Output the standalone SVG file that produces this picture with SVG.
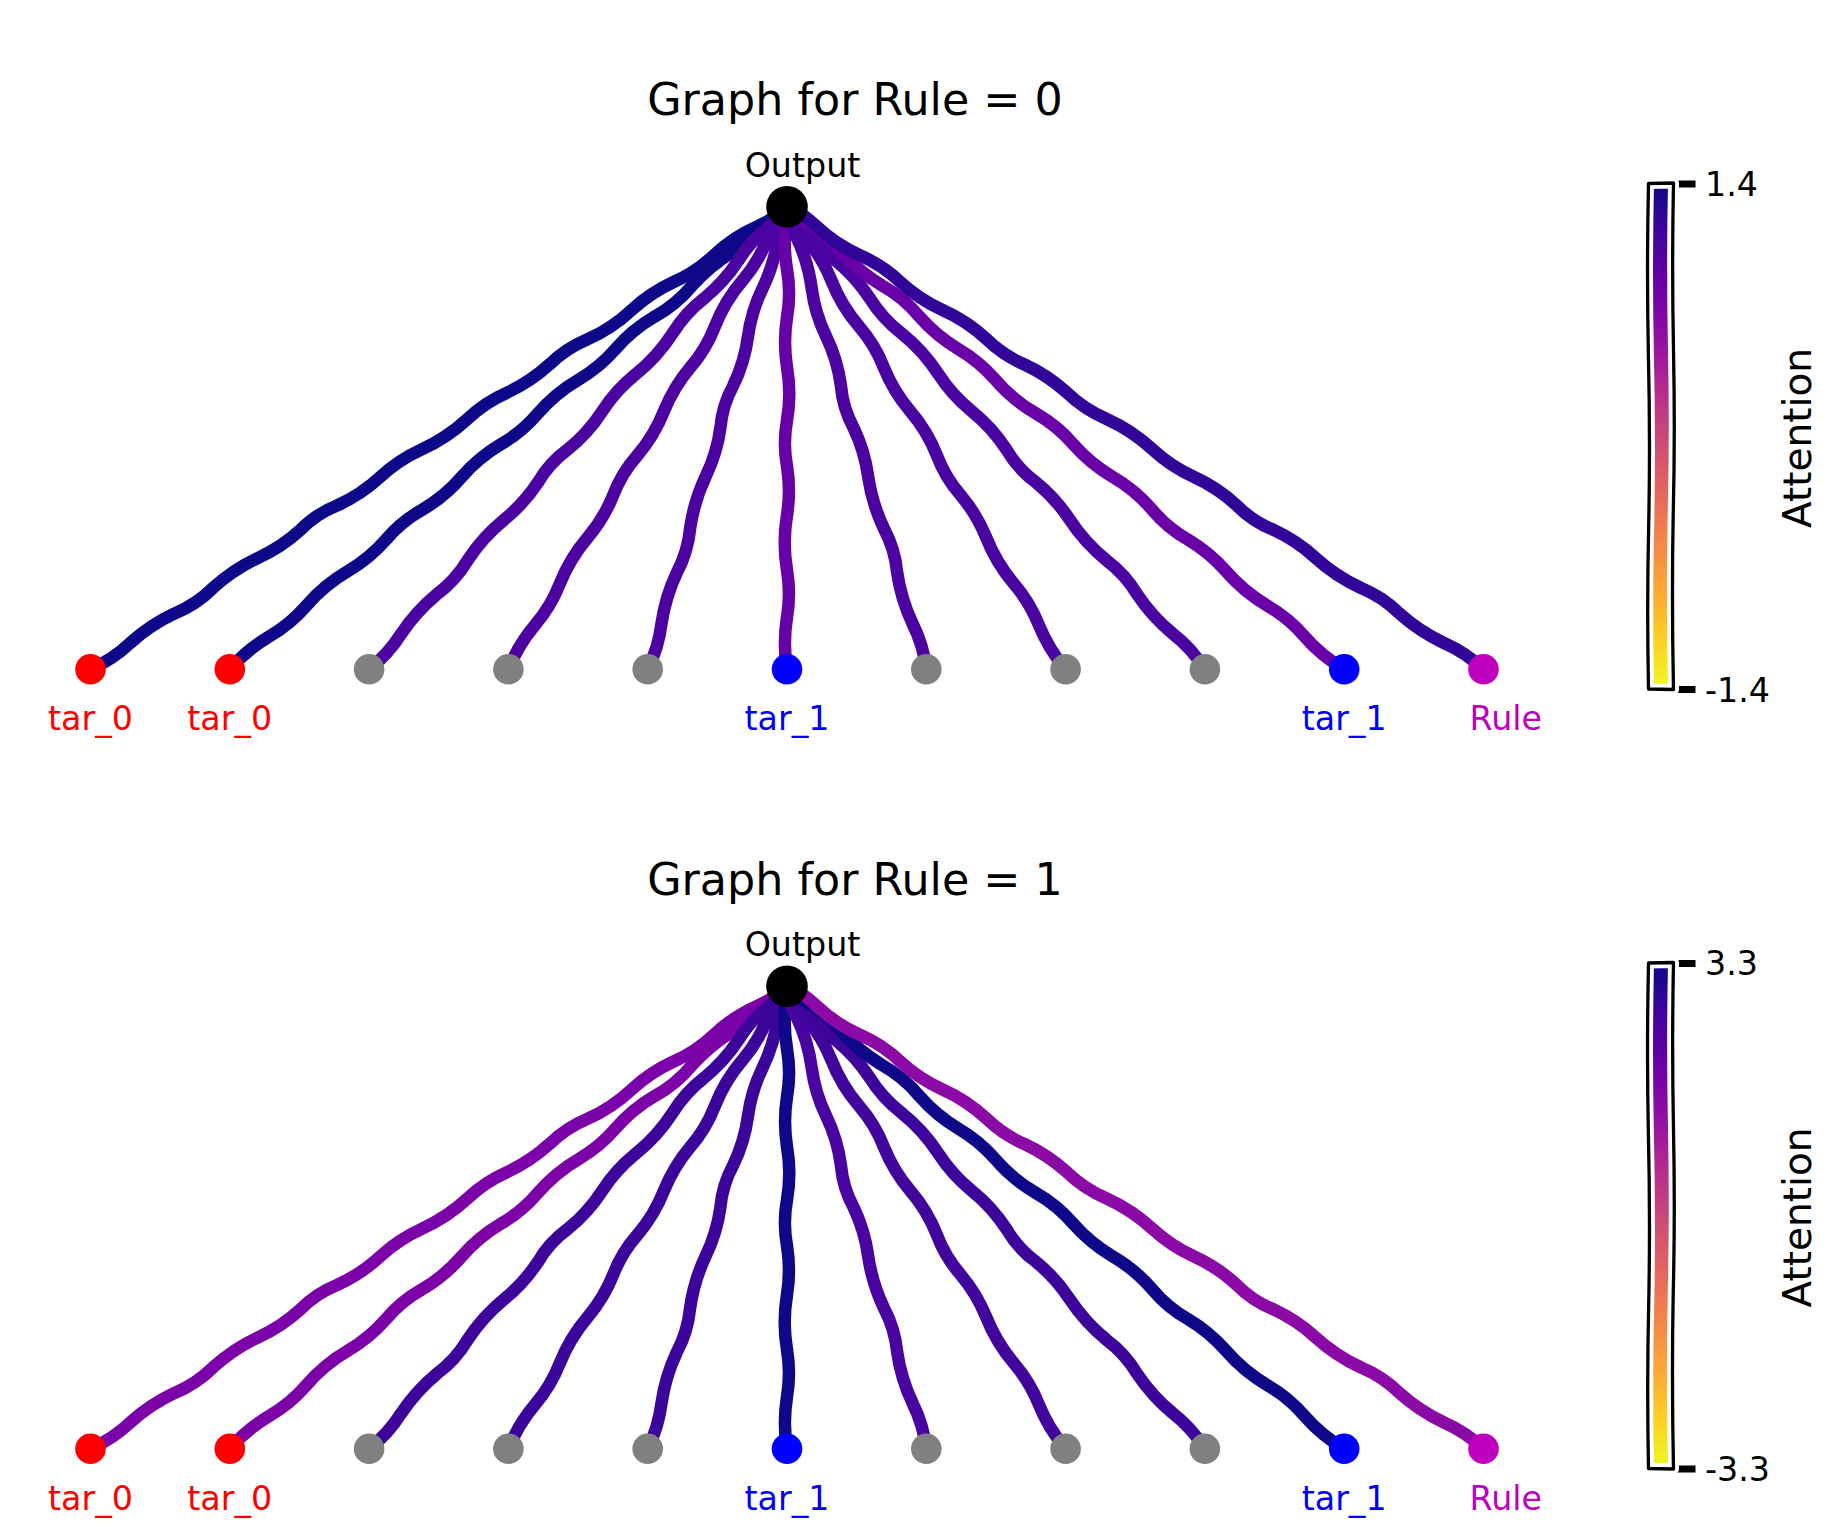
<svg xmlns="http://www.w3.org/2000/svg" width="1838" height="1538" viewBox="0 0 1838 1538">
<style>
text { font-family: "DejaVu Sans", "Liberation Sans", sans-serif; }
.title { font-size: 44.4px; text-anchor: middle; fill: #000; }
.lbl { font-size: 33.3px; text-anchor: middle; }
.tick { font-size: 33.3px; fill: #000; }
.cbl { font-size: 39px; text-anchor: middle; fill: #000; }
.edges use { fill: none; stroke-width: 12.5; stroke-linecap: round; stroke-linejoin: round; }
.out { fill: #000; }
.red { fill: #ff0000; }
.gray { fill: #808080; }
.blue { fill: #0000ff; }
.mag { fill: #bf00bf; }
.cbo { fill: none; stroke-linejoin: round; }
.tk { stroke: #000; stroke-width: 7; }
</style>
<defs>
<path id="wA" pathLength="950" d="M0,0 Q24,4.2 48,0 Q74.5,-3.9 101,0 Q124,4.6 147,0 Q174.5,-4.2 202,0 Q227,3.9 252,0 Q274,-4.6 296,0 Q322,4.2 348,0 Q372.5,-3.9 397,0 Q425,4.6 453,0 Q476.5,-4.2 500,0 Q525.5,3.9 551,0 Q573.5,-4.2 596,0 Q623,4.6 650,0 Q675,-3.9 700,0 Q724,4.2 748,0 Q774.5,-4.6 801,0 Q824.5,3.9 848,0 Q874,-4.2 900,0 Q925,4.2 950,0"/>
<path id="wB" pathLength="1000" d="M0,0 Q26,-4.2 52,0 Q75.5,3.9 99,0 Q126.5,-4.6 154,0 Q178.5,3.9 203,0 Q226,-4.2 249,0 Q275.5,4.6 302,0 Q327,-3.9 352,0 Q376,4.2 400,0 Q427,-4.6 454,0 Q477.5,3.9 501,0 Q526.5,-4.2 552,0 Q576.5,4.6 601,0 Q627.5,-3.9 654,0 Q677,4.2 700,0 Q726,-4.6 752,0 Q777,3.9 802,0 Q826,-4.2 850,0 Q877.5,4.2 905,0 Q929.5,-3.9 954,0 Q977,4.2 1000,0"/>
<linearGradient id="plasma" x1="0" y1="0" x2="0" y2="1">
<stop offset="0" stop-color="#0d0887"/>
<stop offset="0.1" stop-color="#41049d"/>
<stop offset="0.2" stop-color="#6a00a8"/>
<stop offset="0.3" stop-color="#8f0da4"/>
<stop offset="0.4" stop-color="#b12a90"/>
<stop offset="0.5" stop-color="#cc4778"/>
<stop offset="0.6" stop-color="#e16462"/>
<stop offset="0.7" stop-color="#f2844b"/>
<stop offset="0.8" stop-color="#fca636"/>
<stop offset="0.9" stop-color="#fcce25"/>
<stop offset="1" stop-color="#f0f921"/>
</linearGradient>
<path id="cbOutline" d="M1648.5,183.5 L1673.5,183 Q1671.8,265 1673.5,350 Q1675.2,435 1673.2,515 Q1671.6,600 1673.5,689.5 L1648.5,689 Q1646.8,605 1648.7,525 Q1650.4,440 1648.4,355 Q1646.6,270 1648.5,183.5 Z"/>
</defs>
<rect width="1838" height="1538" fill="#ffffff"/>

<!-- ===== Panel: Rule = 0 ===== -->
<g id="panel-rule0">
<text class="title" x="855" y="115">Graph for Rule = 0</text>
<g id="edges-rule0" class="edges">
<use href="#wA" transform="translate(90.5,669.3) rotate(-33.59)" stroke-dasharray="836 3000" stroke="#0d0887"/>
<use href="#wB" transform="translate(229.8,669.3) rotate(-39.70)" stroke-dasharray="724 3000" stroke="#0e0888"/>
<use href="#wA" transform="translate(369.1,669.3) rotate(-47.91)" stroke-dasharray="623 3000" stroke="#4a03a0"/>
<use href="#wB" transform="translate(508.4,669.3) rotate(-58.94)" stroke-dasharray="540 3000" stroke="#4c02a1"/>
<use href="#wA" transform="translate(647.7,669.3) rotate(-73.24)" stroke-dasharray="483 3000" stroke="#4c02a1"/>
<use href="#wB" transform="translate(787,669.3) rotate(-90)" stroke-dasharray="462.6 3000" stroke="#6600a7"/>
<use href="#wA" transform="translate(926.3,669.3) rotate(-106.76)" stroke-dasharray="483 3000" stroke="#4c02a1"/>
<use href="#wB" transform="translate(1065.6,669.3) rotate(-121.06)" stroke-dasharray="540 3000" stroke="#4903a0"/>
<use href="#wA" transform="translate(1204.9,669.3) rotate(-132.09)" stroke-dasharray="623 3000" stroke="#4a03a0"/>
<use href="#wB" transform="translate(1344.2,669.3) rotate(-140.30)" stroke-dasharray="724 3000" stroke="#6a00a8"/>
<use href="#wA" transform="translate(1483.5,669.3) rotate(-146.41)" stroke-dasharray="836 3000" stroke="#300597"/>
</g>
<g id="r0-output"><circle class="out" cx="787" cy="206.7" r="20.8"/><text class="lbl" x="802.5" y="176.7" fill="#000">Output</text></g>
<g id="r0-n0"><circle class="red" cx="90.5" cy="669.3" r="15.3"/><text class="lbl" x="90.5" y="730" fill="#ff0000">tar_0</text></g>
<g id="r0-n1"><circle class="red" cx="229.8" cy="669.3" r="15.3"/><text class="lbl" x="229.8" y="730" fill="#ff0000">tar_0</text></g>
<g id="r0-n2"><circle class="gray" cx="369.1" cy="669.3" r="15.3"/></g>
<g id="r0-n3"><circle class="gray" cx="508.4" cy="669.3" r="15.3"/></g>
<g id="r0-n4"><circle class="gray" cx="647.7" cy="669.3" r="15.3"/></g>
<g id="r0-n5"><circle class="blue" cx="787" cy="669.3" r="15.3"/><text class="lbl" x="787" y="730" fill="#0000ff">tar_1</text></g>
<g id="r0-n6"><circle class="gray" cx="926.3" cy="669.3" r="15.3"/></g>
<g id="r0-n7"><circle class="gray" cx="1065.6" cy="669.3" r="15.3"/></g>
<g id="r0-n8"><circle class="gray" cx="1204.9" cy="669.3" r="15.3"/></g>
<g id="r0-n9"><circle class="blue" cx="1344.2" cy="669.3" r="15.3"/><text class="lbl" x="1344.2" y="730" fill="#0000ff">tar_1</text></g>
<g id="r0-n10"><circle class="mag" cx="1483.5" cy="669.3" r="15.3"/><text class="lbl" x="1505.8" y="730" fill="#bf00bf">Rule</text></g>
<g id="r0-colorbar">
<rect x="1648.5" y="183.5" width="25" height="505.5" fill="url(#plasma)"/>
<line class="tk" x1="1674" y1="184" x2="1695.5" y2="184"/>
<line class="tk" x1="1674" y1="689.5" x2="1695.5" y2="689.5"/>
<use href="#cbOutline" class="cbo" stroke="#ffffff" stroke-width="11"/>
<use href="#cbOutline" class="cbo" stroke="#000000" stroke-width="3.3"/>
<text class="tick" x="1705" y="195.8">1.4</text>
<text class="tick" x="1705" y="701.8">-1.4</text>
<text class="cbl" transform="translate(1810.5,438) rotate(-90)">Attention</text>
</g>
</g>

<!-- ===== Panel: Rule = 1 ===== -->
<g id="panel-rule1" transform="translate(0,779.5)">
<text class="title" x="855" y="115">Graph for Rule = 1</text>
<g id="edges-rule1" class="edges">
<use href="#wA" transform="translate(90.5,669.3) rotate(-33.59)" stroke-dasharray="836 3000" stroke="#7a02a8"/>
<use href="#wB" transform="translate(229.8,669.3) rotate(-39.70)" stroke-dasharray="724 3000" stroke="#7c02a8"/>
<use href="#wA" transform="translate(369.1,669.3) rotate(-47.91)" stroke-dasharray="623 3000" stroke="#3d049b"/>
<use href="#wB" transform="translate(508.4,669.3) rotate(-58.94)" stroke-dasharray="540 3000" stroke="#3b049a"/>
<use href="#wA" transform="translate(647.7,669.3) rotate(-73.24)" stroke-dasharray="483 3000" stroke="#3b049a"/>
<use href="#wB" transform="translate(787,669.3) rotate(-90)" stroke-dasharray="462.6 3000" stroke="#0e0888"/>
<use href="#wA" transform="translate(926.3,669.3) rotate(-106.76)" stroke-dasharray="483 3000" stroke="#4903a0"/>
<use href="#wB" transform="translate(1065.6,669.3) rotate(-121.06)" stroke-dasharray="540 3000" stroke="#41049d"/>
<use href="#wA" transform="translate(1204.9,669.3) rotate(-132.09)" stroke-dasharray="623 3000" stroke="#3d049b"/>
<use href="#wB" transform="translate(1344.2,669.3) rotate(-140.30)" stroke-dasharray="724 3000" stroke="#0e0888"/>
<use href="#wA" transform="translate(1483.5,669.3) rotate(-146.41)" stroke-dasharray="836 3000" stroke="#8b0aa5"/>
</g>
<g id="r1-output"><circle class="out" cx="787" cy="206.7" r="20.8"/><text class="lbl" x="802.5" y="176.7" fill="#000">Output</text></g>
<g id="r1-n0"><circle class="red" cx="90.5" cy="669.3" r="15.3"/><text class="lbl" x="90.5" y="730" fill="#ff0000">tar_0</text></g>
<g id="r1-n1"><circle class="red" cx="229.8" cy="669.3" r="15.3"/><text class="lbl" x="229.8" y="730" fill="#ff0000">tar_0</text></g>
<g id="r1-n2"><circle class="gray" cx="369.1" cy="669.3" r="15.3"/></g>
<g id="r1-n3"><circle class="gray" cx="508.4" cy="669.3" r="15.3"/></g>
<g id="r1-n4"><circle class="gray" cx="647.7" cy="669.3" r="15.3"/></g>
<g id="r1-n5"><circle class="blue" cx="787" cy="669.3" r="15.3"/><text class="lbl" x="787" y="730" fill="#0000ff">tar_1</text></g>
<g id="r1-n6"><circle class="gray" cx="926.3" cy="669.3" r="15.3"/></g>
<g id="r1-n7"><circle class="gray" cx="1065.6" cy="669.3" r="15.3"/></g>
<g id="r1-n8"><circle class="gray" cx="1204.9" cy="669.3" r="15.3"/></g>
<g id="r1-n9"><circle class="blue" cx="1344.2" cy="669.3" r="15.3"/><text class="lbl" x="1344.2" y="730" fill="#0000ff">tar_1</text></g>
<g id="r1-n10"><circle class="mag" cx="1483.5" cy="669.3" r="15.3"/><text class="lbl" x="1505.8" y="730" fill="#bf00bf">Rule</text></g>
<g id="r1-colorbar">
<rect x="1648.5" y="183.5" width="25" height="505.5" fill="url(#plasma)"/>
<line class="tk" x1="1674" y1="184" x2="1695.5" y2="184"/>
<line class="tk" x1="1674" y1="689.5" x2="1695.5" y2="689.5"/>
<use href="#cbOutline" class="cbo" stroke="#ffffff" stroke-width="11"/>
<use href="#cbOutline" class="cbo" stroke="#000000" stroke-width="3.3"/>
<text class="tick" x="1705" y="195.8">3.3</text>
<text class="tick" x="1705" y="701.8">-3.3</text>
<text class="cbl" transform="translate(1810.5,438) rotate(-90)">Attention</text>
</g>
</g>
</svg>
